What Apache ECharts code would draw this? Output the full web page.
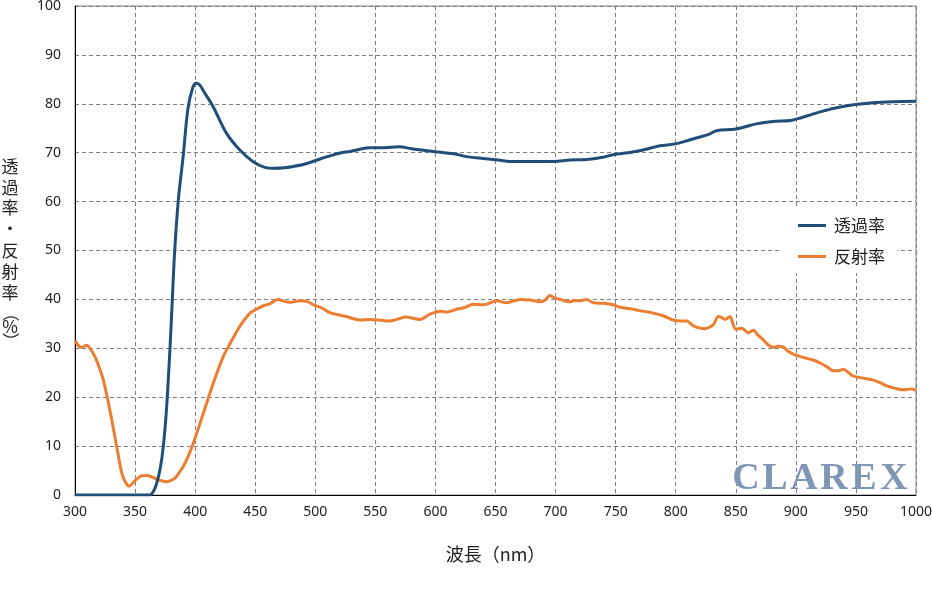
<!DOCTYPE html>
<html>
<head>
<meta charset="utf-8">
<script src="https://cdn.jsdelivr.net/npm/echarts@6/dist/echarts.min.js"></script>
<style>
  html, body { margin: 0; padding: 0; background: #fff; }
  #chart { width: 932px; height: 594px; }
</style>
</head>
<body>
<div id="chart"></div>
<script>
  // 波長 (nm) と 透過率 / 反射率 (%)
  var seriesNames = ['透過率', '反射率'];
  var xTicks = [300, 1000, 50];
  var yTicks = [0, 100, 10];

  var transmission = [
    [300, 0], [320, 0], [340, 0], [355, 0], [362, 0], [365, 0.6], [368, 2.4], [371, 5.5],
    [373.5, 9.9], [376, 17], [379, 29.7], [381, 40], [383, 50], [386, 60.3], [390, 69.2],
    [394, 79], [398, 83.3], [401, 84.2], [404, 83.8], [407, 82.6], [415, 79.4], [426, 74],
    [437, 70.6], [448, 68.2], [458, 67], [466, 66.8], [474, 66.9], [482, 67.2], [490, 67.6],
    [498, 68.2], [510, 69.2], [520, 69.9], [530, 70.3], [537, 70.7], [545, 71], [555, 71],
    [563, 71.1], [570, 71.2], [580, 70.8], [590, 70.5], [600, 70.2], [615, 69.8], [626, 69.2],
    [640, 68.8], [652, 68.5], [665, 68.2], [680, 68.2], [698, 68.2], [712, 68.5], [726, 68.6],
    [738, 69], [748, 69.6], [760, 70], [770, 70.4], [780, 71], [787, 71.4], [799.5, 71.8],
    [810, 72.5], [820, 73.2], [828, 73.8], [834, 74.5], [849, 74.8], [858, 75.3], [867, 75.9],
    [881, 76.4], [896, 76.6], [905, 77.2], [914, 77.9], [924, 78.6], [934, 79.2], [948, 79.8],
    [964, 80.2], [981, 80.4], [1000, 80.5]
  ];

  var reflection = [
    [300, 31.6], [303, 30.5], [305.5, 30.2], [309.7, 30.6], [313, 29.8], [316.6, 28.3],
    [320, 26.2], [323.6, 23.5], [329, 17.4], [334.7, 9.9], [338, 5.5], [340, 3.7], [343, 2.2],
    [345, 1.8], [348, 2.4], [351, 3.2], [355, 3.9], [359.6, 4], [364, 3.7], [368, 3.2],
    [372, 2.9], [376, 2.7], [380, 3], [383, 3.4], [386, 4.3], [390, 5.8], [394, 7.8],
    [398.5, 10.6], [406.8, 16.7], [415, 22.8], [423.4, 28.3], [428, 30.5], [434.5, 33.4],
    [440, 35.5], [445.7, 37.2], [451, 38], [456.8, 38.7], [462, 39.1], [469, 40], [474, 39.6],
    [479, 39.4], [487, 39.7], [493, 39.6], [498.4, 38.9], [505, 38.3], [512, 37.3], [520, 36.8],
    [526, 36.5], [531, 36.1], [537, 35.8], [545, 35.9], [552, 35.8], [560, 35.6], [565, 35.7],
    [570.5, 36.1], [575, 36.4], [587, 35.9], [595.5, 37], [604, 37.6], [609.4, 37.4],
    [617.7, 38], [624, 38.3], [631.5, 39], [640, 38.9], [651, 39.7], [659, 39.3], [670.4, 40],
    [678.7, 39.9], [687, 39.5], [691, 39.8], [695.4, 40.8], [699, 40.3], [703.7, 40], [712, 39.5],
    [716, 39.8], [720.3, 39.7], [725.8, 40], [731.4, 39.3], [740, 39.2], [748, 38.9],
    [753.6, 38.4], [759, 38.2], [764.7, 38], [770, 37.7], [781.3, 37.2], [790, 36.6], [798, 35.8],
    [804, 35.6], [809, 35.6], [814.6, 34.6], [819, 34.2], [824.4, 34], [828, 34.3], [831.3, 34.8],
    [835.5, 36.5], [838, 36.3], [841, 35.9], [845.2, 36.5], [847, 35.5], [850, 33.9], [855, 34.1],
    [860.4, 33.2], [864.6, 33.7], [868, 32.8], [873, 31.7], [877, 30.7], [881, 30.2], [885, 30.4],
    [889.5, 30.3], [893, 29.5], [897.8, 28.8], [905, 28.2], [914.5, 27.6], [920, 27], [926, 26.2],
    [931, 25.4], [935, 25.4], [939.5, 25.7], [944, 25], [948, 24.3], [956, 23.9], [964.5, 23.5],
    [970, 23], [975.7, 22.3], [983, 21.8], [989.6, 21.5], [996.5, 21.7], [1000, 21.4]
  ];

  var logoLetters = ['C', 'L', 'A', 'R', 'E', 'X'];
  var yNameChars = ['透', '過', '率', '・', '反', '射', '率', '（', '%', '）'];

  var jp = '"Noto Sans CJK JP", "Noto Sans", sans-serif';
  var num = '"Noto Sans", "Liberation Sans", sans-serif';

  var myChart = echarts.init(document.getElementById('chart'));

  var graphics = [];
  // ロゴ (文字ごとに配置)
  var logoX = [746, 775, 804, 834, 864, 894];
  logoLetters.forEach(function (ch, i) {
    graphics.push({
      type: 'text',
      x: logoX[i],
      y: 479,
      z: 20,
      style: {
        text: ch,
        align: 'center',
        verticalAlign: 'middle',
        fill: '#7f97b5',
        font: 'bold 38px "Liberation Serif", serif'
      }
    });
  });
  // 縦書きのY軸名
  var yNameY = [167, 188, 208, 229, 251, 272, 293, 313, 327, 341];
  yNameChars.forEach(function (ch, i) {
    var rotated = (ch === '（' || ch === '）');
    graphics.push({
      type: 'text',
      x: 10,
      y: yNameY[i],
      rotation: rotated ? -Math.PI / 2 : 0,
      style: {
        text: ch,
        align: 'center',
        verticalAlign: 'middle',
        fill: '#222',
        font: '17px ' + jp
      }
    });
  });

  myChart.setOption({
    animation: false,
    backgroundColor: '#fff',
    grid: {
      left: 75,
      right: 16,
      top: 6,
      bottom: 99,
      outerBoundsMode: 'none',
      containLabel: false,
      show: true,
      borderColor: '#808080',
      borderWidth: 1
    },
    legend: {
      data: seriesNames,
      orient: 'vertical',
      left: 780,
      top: 208,
      backgroundColor: '#fff',
      padding: [9, 12, 8, 18],
      itemGap: 14,
      itemWidth: 28,
      itemHeight: 3,
      icon: 'rect',
      textStyle: {
        fontFamily: jp,
        fontSize: 17,
        color: '#222',
        padding: [0, 0, 0, 3]
      }
    },
    xAxis: {
      type: 'value',
      min: xTicks[0],
      max: xTicks[1],
      interval: xTicks[2],
      name: '波長（nm）',
      nameLocation: 'middle',
      nameGap: 50,
      nameTextStyle: { fontFamily: jp, fontSize: 18, color: '#222' },
      axisLine: { show: true, onZero: false, lineStyle: { color: '#000', width: 1 } },
      axisTick: { show: false },
      axisLabel: {
        margin: 10, fontFamily: num, fontSize: 14, color: '#222',
        formatter: function (v) { return String(v); }
      },
      splitLine: { show: true, lineStyle: { color: '#808080', type: [4, 3], width: 1 } }
    },
    yAxis: {
      type: 'value',
      min: yTicks[0],
      max: yTicks[1],
      interval: yTicks[2],
      axisLine: { show: true, lineStyle: { color: '#000', width: 1 } },
      axisTick: { show: false },
      axisLabel: { margin: 14, fontFamily: num, fontSize: 14, color: '#222' },
      splitLine: { show: true, lineStyle: { color: '#808080', type: [4, 3], width: 1 } }
    },
    series: [{
      name: seriesNames[0],
      type: 'line',
      data: transmission,
      showSymbol: false,
      symbol: 'none',
      smooth: 0.35,
      lineStyle: { color: '#1f4e79', width: 3 },
      itemStyle: { color: '#1f4e79' },
      z: 3
    }, {
      name: seriesNames[1],
      type: 'line',
      data: reflection,
      showSymbol: false,
      symbol: 'none',
      smooth: 0.3,
      lineStyle: { color: '#ed7d31', width: 3 },
      itemStyle: { color: '#ed7d31' },
      z: 2
    }],
    graphic: graphics
  });
</script>
</body>
</html>
